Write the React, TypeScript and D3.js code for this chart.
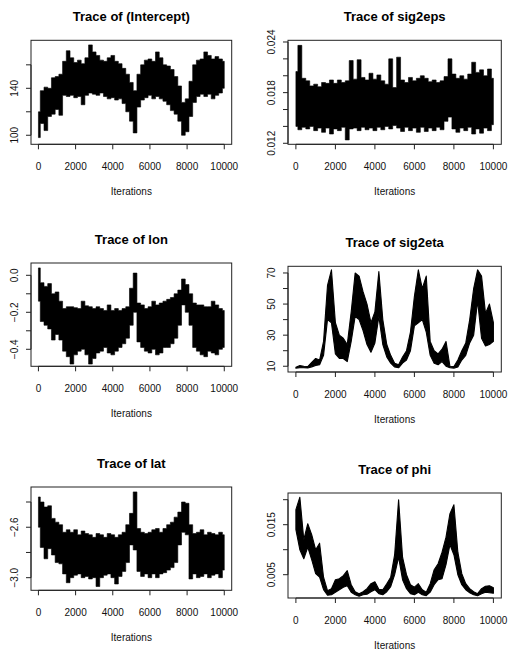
import React from 'react';
import * as d3 from 'd3';

// MCMC trace envelopes, every 200 iterations (low / high of the chain)
const iterations = d3.range(0, 10001, 200);
const xTicks = [0, 2000, 4000, 6000, 8000, 10000];

const interceptLo = [98, 110, 104, 116, 118, 122, 117, 134, 133, 134, 132, 133, 126, 134, 136, 135, 134, 136, 133, 131, 132, 130, 131, 127, 120, 112, 102, 124, 130, 132, 134, 131, 133, 131, 129, 126, 121, 118, 112, 100, 103, 116, 128, 133, 135, 133, 135, 131, 134, 136, 140];
const interceptHi = [120, 138, 141, 140, 149, 150, 152, 163, 172, 166, 162, 164, 161, 166, 177, 171, 168, 164, 163, 166, 168, 163, 161, 157, 152, 145, 138, 152, 160, 164, 165, 163, 171, 166, 160, 159, 156, 150, 142, 128, 131, 146, 160, 164, 165, 171, 168, 165, 167, 165, 163];

const sig2epsLo = [0.0140, 0.0136, 0.0139, 0.0137, 0.0140, 0.0135, 0.0138, 0.0133, 0.0138, 0.0131, 0.0137, 0.0135, 0.0139, 0.0124, 0.0137, 0.0138, 0.0135, 0.0139, 0.0136, 0.0138, 0.0135, 0.0139, 0.0136, 0.0140, 0.0137, 0.0141, 0.0138, 0.0134, 0.0139, 0.0135, 0.0138, 0.0133, 0.0139, 0.0134, 0.0138, 0.0135, 0.0139, 0.0136, 0.0146, 0.0151, 0.0137, 0.0133, 0.0138, 0.0135, 0.0139, 0.0131, 0.0137, 0.0132, 0.0138, 0.0135, 0.0142];
const sig2epsHi = [0.0205, 0.0236, 0.0197, 0.0194, 0.0188, 0.0190, 0.0187, 0.0192, 0.0191, 0.0195, 0.0191, 0.0195, 0.0192, 0.0194, 0.0218, 0.0196, 0.0219, 0.0198, 0.0195, 0.0203, 0.0196, 0.0201, 0.0194, 0.0190, 0.0220, 0.0186, 0.0222, 0.0195, 0.0192, 0.0198, 0.0194, 0.0197, 0.0200, 0.0197, 0.0193, 0.0195, 0.0192, 0.0194, 0.0199, 0.0220, 0.0202, 0.0197, 0.0200, 0.0196, 0.0202, 0.0216, 0.0204, 0.0207, 0.0200, 0.0208, 0.0197];

const lonLo = [-0.14, -0.25, -0.27, -0.29, -0.35, -0.32, -0.35, -0.41, -0.44, -0.48, -0.43, -0.41, -0.40, -0.43, -0.48, -0.45, -0.42, -0.41, -0.39, -0.42, -0.43, -0.41, -0.39, -0.37, -0.34, -0.27, -0.20, -0.36, -0.39, -0.41, -0.42, -0.40, -0.43, -0.42, -0.39, -0.39, -0.37, -0.34, -0.27, -0.16, -0.20, -0.27, -0.39, -0.41, -0.43, -0.44, -0.41, -0.42, -0.43, -0.40, -0.39];
const lonHi = [0.04, -0.04, -0.06, -0.045, -0.10, -0.09, -0.14, -0.18, -0.17, -0.17, -0.175, -0.18, -0.14, -0.165, -0.17, -0.18, -0.17, -0.18, -0.19, -0.16, -0.19, -0.18, -0.19, -0.18, -0.17, -0.07, 0.012, -0.15, -0.16, -0.18, -0.17, -0.14, -0.16, -0.15, -0.14, -0.13, -0.12, -0.10, -0.08, -0.02, -0.05, -0.10, -0.15, -0.16, -0.16, -0.17, -0.17, -0.14, -0.16, -0.18, -0.19];

const sig2etaLo = [8.8, 9.0, 9.0, 8.9, 9.6, 10.5, 11, 17, 40, 38, 18, 15, 15, 13, 26, 42, 40, 33, 24, 19, 25, 42, 24, 16, 12, 9.5, 9, 12, 14, 20, 36, 38, 40, 32, 17, 12, 11, 13, 10, 9, 8.8, 9.5, 14, 17, 25, 30, 52, 28, 23, 24, 26];
const sig2etaHi = [9.4, 10.4, 10, 9.8, 12.5, 15, 14, 26, 62, 72, 38, 30, 28, 24, 45, 70, 68, 58, 50, 38, 45, 71, 40, 24, 17, 12, 11, 16, 20, 32, 55, 72, 60, 68, 26, 20, 18, 21, 26, 10, 9.8, 14, 20, 25, 40, 60, 72, 68, 44, 50, 38];

const latLo = [-2.60, -2.76, -2.85, -2.77, -2.82, -2.88, -2.89, -2.97, -3.04, -3.00, -2.98, -2.97, -3.00, -2.99, -3.01, -3.00, -3.07, -3.00, -2.98, -2.97, -3.00, -3.05, -2.99, -2.95, -2.88, -2.74, -2.78, -2.95, -2.99, -2.97, -3.00, -2.97, -3.00, -2.97, -2.96, -2.94, -2.92, -2.88, -2.74, -2.64, -2.66, -3.01, -2.97, -3.00, -2.99, -2.97, -3.00, -2.98, -2.97, -3.00, -2.94];
const latHi = [-2.36, -2.40, -2.44, -2.43, -2.53, -2.56, -2.58, -2.64, -2.62, -2.64, -2.62, -2.66, -2.63, -2.65, -2.66, -2.68, -2.65, -2.66, -2.68, -2.65, -2.66, -2.68, -2.66, -2.64, -2.58, -2.49, -2.32, -2.61, -2.64, -2.65, -2.64, -2.62, -2.61, -2.64, -2.61, -2.58, -2.56, -2.52, -2.48, -2.40, -2.41, -2.58, -2.65, -2.64, -2.62, -2.66, -2.64, -2.65, -2.66, -2.64, -2.66];

const phiLo = [0.0140, 0.0100, 0.0082, 0.0105, 0.0080, 0.0052, 0.0045, 0.0020, 0.0009, 0.0010, 0.0015, 0.0020, 0.0025, 0.0028, 0.0015, 0.0010, 0.0007, 0.0010, 0.0011, 0.0016, 0.0020, 0.0012, 0.0010, 0.0016, 0.0026, 0.0050, 0.0085, 0.0040, 0.0022, 0.0012, 0.0010, 0.0015, 0.0010, 0.0008, 0.0015, 0.0030, 0.0040, 0.0042, 0.0070, 0.0110, 0.0090, 0.0050, 0.0030, 0.0020, 0.0014, 0.0010, 0.0008, 0.0012, 0.0015, 0.0014, 0.0013];
const phiHi = [0.0180, 0.0205, 0.0120, 0.0152, 0.0130, 0.0100, 0.0113, 0.0045, 0.0018, 0.0022, 0.0040, 0.0042, 0.0048, 0.0058, 0.0030, 0.0016, 0.0012, 0.0016, 0.0022, 0.0032, 0.0036, 0.0021, 0.0020, 0.0032, 0.0045, 0.0090, 0.0200, 0.0085, 0.0050, 0.0030, 0.0025, 0.0032, 0.0020, 0.0015, 0.0032, 0.0060, 0.0072, 0.0095, 0.0125, 0.0172, 0.0190, 0.0095, 0.0052, 0.0032, 0.0022, 0.0016, 0.0012, 0.0022, 0.0027, 0.0028, 0.0024];

const panels = [
  { title: 'Trace of (Intercept)', lo: interceptLo, hi: interceptHi, dense: true, yDomain: [92.3, 180.9], yTicks: [100, 120, 140, 160], yLabels: [100, 140], fmt: 'd', box: { l: 31, t: 40.3, r: 231.7, b: 144.3 } },
  { title: 'Trace of sig2eps', lo: sig2epsLo, hi: sig2epsHi, dense: true, yDomain: [0.01188, 0.0242], yTicks: [0.012, 0.014, 0.016, 0.018, 0.02, 0.022, 0.024], yLabels: [0.012, 0.018, 0.024], fmt: '.3f', box: { l: 288, t: 40.3, r: 501.3, b: 144.3 } },
  { title: 'Trace of lon', lo: lonLo, hi: lonHi, dense: true, yDomain: [-0.492, 0.0665], yTicks: [-0.4, -0.3, -0.2, -0.1, 0], yLabels: [-0.4, -0.2, 0], fmt: '.1f', box: { l: 31, t: 263, r: 231.7, b: 366.3 } },
  { title: 'Trace of sig2eta', lo: sig2etaLo, hi: sig2etaHi, dense: false, yDomain: [6.3, 74.3], yTicks: [10, 20, 30, 40, 50, 60, 70], yLabels: [10, 30, 50, 70], fmt: 'd', box: { l: 288, t: 266.3, r: 501.3, b: 372 } },
  { title: 'Trace of lat', lo: latLo, hi: latHi, dense: true, yDomain: [-3.1, -2.281], yTicks: [-3.0, -2.8, -2.6, -2.4], yLabels: [-3.0, -2.6], fmt: '.1f', box: { l: 31, t: 487, r: 231.7, b: 590.3 } },
  { title: 'Trace of phi', lo: phiLo, hi: phiHi, dense: false, yDomain: [0.00034, 0.02134], yTicks: [0.005, 0.01, 0.015, 0.02], yLabels: [0.005, 0.015], fmt: '.3f', box: { l: 288, t: 493, r: 501.3, b: 598 } },
];

const font = 'Liberation Sans, Arial, sans-serif';

function TracePanel({ p }) {
  const { box } = p;
  const x = d3.scaleLinear().domain([-400, 10400]).range([box.l, box.r]);
  const y = d3.scaleLinear().domain(p.yDomain).range([box.b, box.t]);
  const fmt = d3.format(p.fmt);
  const tick = 5;

  // dense chains get vertical jumps between bins, slow ones a plain band
  const area = d3.area()
    .curve(p.dense ? d3.curveStep : d3.curveLinear)
    .x((d, i) => x(iterations[i]))
    .y0((d, i) => y(p.lo[i]))
    .y1((d, i) => y(p.hi[i]));

  return (
    <g>
      <text x={(box.l + box.r) / 2} y={box.t - 19.5} textAnchor="middle" fontWeight="bold" fontSize={13} fontFamily={font}>
        {p.title}
      </text>
      <path d={area(iterations)} fill="#000" stroke="#000" strokeWidth={p.dense ? 0.6 : 1.1} strokeLinejoin="round" />
      <rect x={box.l} y={box.t} width={box.r - box.l} height={box.b - box.t} fill="none" stroke="#222" strokeWidth={1} />

      {/* x axis */}
      <line x1={x(xTicks[0])} x2={x(xTicks[xTicks.length - 1])} y1={box.b} y2={box.b} stroke="#222" />
      {xTicks.map(t => (
        <g key={t}>
          <line x1={x(t)} x2={x(t)} y1={box.b} y2={box.b + tick} stroke="#222" />
          <text x={x(t)} y={box.b + 25.5} textAnchor="middle" fontSize={10} fontFamily={font} fill="#111">{t}</text>
        </g>
      ))}
      <text x={(box.l + box.r) / 2} y={box.b + 51} textAnchor="middle" fontSize={10} fontFamily={font} fill="#111">Iterations</text>

      {/* y axis */}
      <line x1={box.l} x2={box.l} y1={y(p.yTicks[0])} y2={y(p.yTicks[p.yTicks.length - 1])} stroke="#222" />
      {p.yTicks.map(t => (
        <line key={t} x1={box.l - tick} x2={box.l} y1={y(t)} y2={y(t)} stroke="#222" />
      ))}
      {p.yLabels.map(t => (
        <text key={t} transform={`translate(${box.l - 13.5},${y(t)}) rotate(-90)`} textAnchor="middle" fontSize={10} fontFamily={font} fill="#111">
          {fmt(t)}
        </text>
      ))}
    </g>
  );
}

export default function App() {
  return (
    <svg width={511} height={653} style={{ position: 'absolute', left: 0, top: 0, background: '#fff' }}>
      {panels.map(p => <TracePanel key={p.title} p={p} />)}
    </svg>
  );
}
